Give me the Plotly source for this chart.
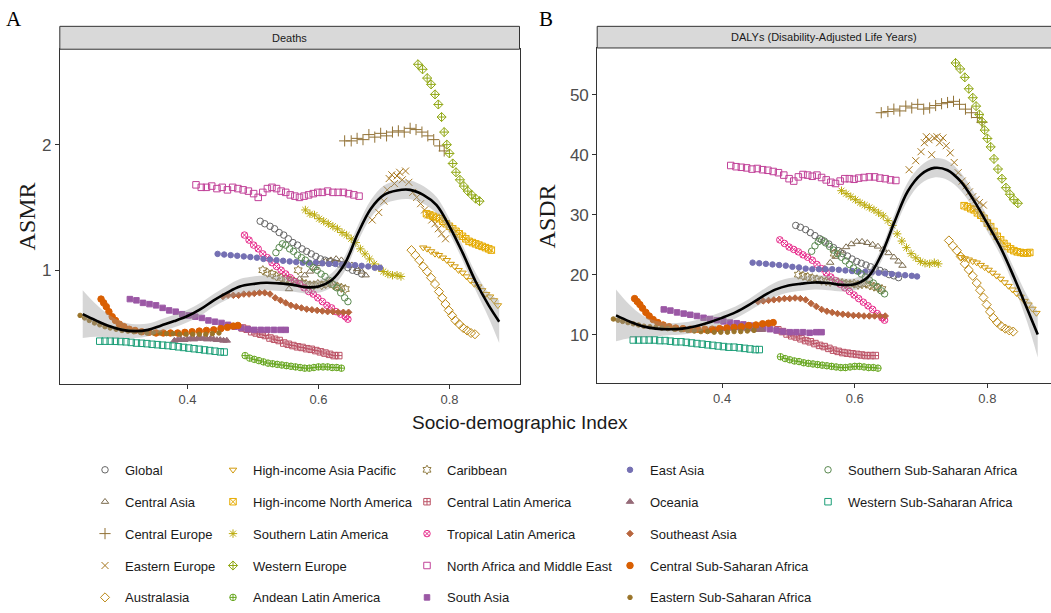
import plotly.graph_objects as go

W, H = 1051, 613

# ---------------- data (SDI, ASMR deaths, ASDR DALYs) ----------------
sdi_global = [0.511,0.518,0.526,0.533,0.540,0.547,0.554,0.561,0.568,0.575,0.582,0.589,0.596,0.603,0.610,0.617,0.624,0.631,0.638,0.645,0.652,0.659,0.666]
asmr_global = [1.39,1.37,1.35,1.33,1.30,1.28,1.25,1.22,1.20,1.17,1.15,1.13,1.11,1.09,1.08,1.07,1.06,1.05,1.04,1.02,1.00,0.99,0.97]
asdr_global = [28.2,27.9,27.5,27.0,26.5,26.0,25.6,25.1,24.5,24.0,23.5,23.1,22.6,22.2,21.9,21.6,21.3,21.0,20.7,20.4,20.0,19.8,19.5]

sdi_cas = [0.555,0.563,0.571,0.579,0.587,0.595,0.603,0.611,0.619,0.627,0.635,0.643,0.651,0.659,0.666,0.672]
asmr_cas = [0.85,0.89,0.93,0.96,0.99,1.02,1.05,1.07,1.08,1.09,1.08,1.06,1.04,1.01,0.99,0.96]
asdr_cas = [21.0,22.0,23.0,23.9,24.6,25.1,25.5,25.5,25.3,25.0,24.7,24.2,23.6,22.9,22.2,21.5]

sdi_ceu = [0.640,0.650,0.659,0.668,0.677,0.686,0.695,0.704,0.713,0.722,0.731,0.740,0.749,0.758,0.767,0.776,0.785,0.792]
asmr_ceu = [2.03,2.03,2.05,2.04,2.08,2.06,2.09,2.07,2.10,2.11,2.10,2.13,2.12,2.10,2.07,2.04,1.99,1.95]
asdr_ceu = [47.0,47.2,47.6,47.3,48.1,47.8,48.4,47.6,47.8,48.2,48.5,48.7,48.9,48.4,47.6,47.0,46.2,45.4]

sdi_eeu = [0.682,0.692,0.700,0.705,0.708,0.712,0.716,0.720,0.724,0.728,0.733,0.738,0.744,0.750,0.756,0.762,0.768,0.773,0.778,0.783,0.788,0.794]
asmr_eeu = [1.40,1.46,1.55,1.64,1.73,1.76,1.69,1.75,1.78,1.72,1.79,1.70,1.62,1.58,1.53,1.48,1.44,1.40,1.37,1.33,1.29,1.25]
asdr_eeu = [37.5,39.0,40.5,42.0,43.0,42.5,40.0,42.8,43.0,42.0,42.8,41.5,40.3,38.7,37.0,35.6,34.8,33.8,33.0,32.5,32.0,31.6]

sdi_aus = [0.742,0.748,0.754,0.760,0.766,0.772,0.778,0.784,0.789,0.794,0.799,0.804,0.809,0.815,0.821,0.827,0.833,0.839]
asmr_aus = [1.16,1.12,1.08,1.03,0.99,0.94,0.89,0.83,0.78,0.73,0.68,0.64,0.60,0.57,0.54,0.52,0.50,0.49]
asdr_aus = [25.7,24.8,24.0,23.0,21.8,20.8,19.8,18.6,17.4,16.2,15.0,13.8,12.8,12.0,11.4,11.0,10.7,10.5]

sdi_hiap = [0.760,0.766,0.772,0.778,0.784,0.790,0.796,0.802,0.808,0.814,0.820,0.826,0.832,0.838,0.844,0.850,0.856,0.862,0.868,0.874]
asmr_hiap = [1.18,1.17,1.15,1.13,1.12,1.10,1.08,1.05,1.03,1.00,0.98,0.95,0.92,0.89,0.87,0.84,0.81,0.79,0.76,0.72]
asdr_hiap = [22.9,22.7,22.5,22.2,22.0,21.6,21.2,20.8,20.3,19.8,19.3,18.7,18.1,17.5,16.9,16.3,15.6,15.0,14.3,13.6]

sdi_hina = [0.765,0.770,0.775,0.780,0.785,0.790,0.795,0.800,0.805,0.810,0.815,0.820,0.825,0.830,0.835,0.840,0.845,0.850,0.855,0.860,0.864]
asmr_hina = [1.45,1.44,1.43,1.42,1.41,1.39,1.37,1.35,1.33,1.31,1.29,1.27,1.25,1.23,1.22,1.21,1.20,1.19,1.18,1.17,1.16]
asdr_hina = [31.5,31.3,31.0,30.8,30.3,29.9,29.4,28.6,28.0,27.2,26.4,25.8,25.2,24.7,24.3,24.0,23.8,23.7,23.6,23.6,23.7]

sdi_sla = [0.580,0.587,0.594,0.601,0.608,0.615,0.622,0.629,0.636,0.643,0.650,0.657,0.664,0.671,0.678,0.685,0.692,0.699,0.706,0.713,0.720,0.726]
asmr_sla = [1.48,1.45,1.44,1.41,1.39,1.37,1.35,1.33,1.30,1.28,1.25,1.22,1.17,1.13,1.09,1.05,1.02,0.99,0.97,0.96,0.96,0.95]
asdr_sla = [34.0,33.5,33.0,32.5,32.0,31.6,31.2,30.8,30.3,29.8,29.0,28.2,26.8,25.6,24.5,23.5,22.8,22.2,21.9,21.8,22.0,21.8]

sdi_weu = [0.752,0.759,0.766,0.772,0.778,0.783,0.788,0.792,0.796,0.800,0.805,0.810,0.816,0.822,0.828,0.834,0.840,0.846]
asmr_weu = [2.64,2.60,2.53,2.48,2.40,2.32,2.22,2.10,2.00,1.93,1.85,1.78,1.72,1.67,1.63,1.60,1.57,1.55]
asdr_weu = [55.3,54.3,52.9,51.0,49.5,48.1,46.7,45.5,44.1,42.7,41.3,39.3,37.6,36.0,34.5,33.4,32.5,31.9]

sdi_and = [0.488,0.495,0.502,0.509,0.516,0.523,0.530,0.537,0.544,0.551,0.558,0.565,0.572,0.579,0.586,0.593,0.600,0.607,0.614,0.621,0.628,0.635]
asmr_and = [0.32,0.30,0.29,0.28,0.27,0.26,0.255,0.25,0.245,0.24,0.235,0.23,0.225,0.22,0.22,0.225,0.23,0.23,0.23,0.225,0.225,0.22]
asdr_and = [6.3,6.0,5.8,5.6,5.5,5.3,5.2,5.1,5.0,4.9,4.8,4.7,4.6,4.5,4.5,4.6,4.7,4.7,4.6,4.5,4.5,4.4]

sdi_car = [0.515,0.522,0.529,0.536,0.543,0.550,0.557,0.563,0.569,0.575,0.581,0.587,0.593,0.599,0.605,0.611,0.617,0.623,0.629,0.635,0.641]
asmr_car = [1.00,0.98,0.97,0.95,0.94,0.93,0.92,0.91,1.00,0.90,0.89,0.88,0.88,0.89,0.88,0.89,0.90,0.88,0.87,0.86,0.85]
asdr_car = [20.0,19.8,19.6,19.4,19.2,19.0,18.9,18.8,23.5,18.7,18.6,18.5,18.4,18.5,18.3,18.4,18.5,18.2,18.0,17.8,17.6]

sdi_cla = [0.484,0.491,0.498,0.505,0.512,0.519,0.526,0.533,0.540,0.547,0.554,0.561,0.568,0.575,0.582,0.589,0.596,0.603,0.610,0.617,0.624,0.631]
asmr_cla = [0.54,0.53,0.51,0.50,0.49,0.48,0.46,0.45,0.44,0.42,0.41,0.40,0.39,0.385,0.375,0.37,0.36,0.35,0.34,0.33,0.32,0.32]
asdr_cla = [10.8,10.5,10.1,9.8,9.6,9.3,9.0,8.8,8.5,8.2,8.0,7.7,7.4,7.2,7.0,6.9,6.8,6.7,6.6,6.5,6.5,6.5]

sdi_tla = [0.487,0.494,0.501,0.508,0.515,0.522,0.529,0.536,0.543,0.550,0.557,0.564,0.571,0.578,0.585,0.592,0.599,0.606,0.613,0.620,0.627,0.634,0.641,0.645]
asmr_tla = [1.28,1.24,1.20,1.17,1.13,1.10,1.06,1.03,1.00,0.97,0.94,0.91,0.89,0.86,0.83,0.81,0.78,0.75,0.72,0.70,0.67,0.65,0.63,0.61]
asdr_tla = [25.8,25.2,24.6,24.2,23.8,23.3,22.9,22.4,21.7,21.0,20.3,19.6,19.0,18.4,17.8,17.2,16.6,16.0,15.4,14.8,14.2,13.5,12.8,12.4]

sdi_name = [0.413,0.421,0.429,0.437,0.445,0.453,0.461,0.469,0.477,0.485,0.493,0.501,0.508,0.515,0.522,0.529,0.536,0.543,0.550,0.557,0.564,0.571,0.578,0.585,0.592,0.599,0.606,0.614,0.622,0.630,0.638,0.646,0.654,0.662]
asmr_name = [1.68,1.66,1.66,1.67,1.65,1.66,1.64,1.66,1.65,1.64,1.63,1.61,1.58,1.62,1.65,1.66,1.65,1.63,1.62,1.60,1.59,1.58,1.59,1.60,1.61,1.62,1.62,1.63,1.62,1.62,1.62,1.61,1.60,1.59]
asdr_name = [38.2,38.0,37.9,37.8,37.6,37.7,37.5,37.4,37.2,37.0,36.6,36.0,35.6,36.3,36.7,36.6,36.4,36.6,36.2,35.8,35.4,35.2,35.6,36.0,36.0,35.9,36.1,36.2,36.3,36.3,36.1,36.0,35.8,35.7]

sdi_sas = [0.312,0.322,0.332,0.342,0.352,0.362,0.372,0.382,0.392,0.402,0.412,0.422,0.432,0.442,0.452,0.462,0.472,0.482,0.492,0.502,0.512,0.522,0.532,0.542,0.550]
asmr_sas = [0.77,0.76,0.74,0.73,0.72,0.70,0.68,0.67,0.65,0.64,0.63,0.62,0.60,0.59,0.58,0.565,0.55,0.54,0.53,0.525,0.525,0.525,0.525,0.525,0.525]
asdr_sas = [14.2,14.0,13.7,13.5,13.3,13.1,12.8,12.6,12.4,12.2,12.0,11.9,11.7,11.5,11.3,11.1,10.9,10.7,10.5,10.4,10.4,10.4,10.3,10.4,10.4]

sdi_eas = [0.446,0.456,0.466,0.476,0.486,0.496,0.506,0.516,0.526,0.536,0.546,0.556,0.566,0.576,0.586,0.596,0.606,0.616,0.626,0.636,0.646,0.656,0.666,0.676,0.686,0.694]
asmr_eas = [1.13,1.125,1.12,1.115,1.11,1.105,1.10,1.09,1.085,1.08,1.075,1.07,1.065,1.06,1.06,1.06,1.055,1.05,1.05,1.045,1.04,1.04,1.035,1.03,1.02,1.02]
asdr_eas = [22.0,21.9,21.8,21.7,21.6,21.5,21.3,21.2,21.0,20.9,20.9,20.9,20.9,20.8,20.7,20.6,20.5,20.5,20.4,20.3,20.2,20.1,20.0,19.9,19.8,19.7]

sdi_oce = [0.380,0.385,0.390,0.395,0.400,0.405,0.410,0.415,0.420,0.425,0.430,0.435,0.440,0.445,0.450,0.455,0.460]
asmr_oce = [0.44,0.445,0.45,0.445,0.45,0.455,0.45,0.455,0.46,0.455,0.45,0.455,0.45,0.445,0.445,0.44,0.44]
asdr_oce = [10.6,10.7,10.8,10.8,10.9,11.0,11.0,11.1,11.1,11.1,11.0,11.1,11.0,10.9,10.9,10.8,10.8]

sdi_sea = [0.454,0.462,0.470,0.478,0.486,0.494,0.502,0.510,0.518,0.526,0.534,0.542,0.550,0.558,0.566,0.574,0.582,0.590,0.598,0.606,0.614,0.622,0.630,0.638,0.646]
asmr_sea = [0.79,0.80,0.80,0.80,0.81,0.81,0.815,0.82,0.82,0.81,0.78,0.76,0.74,0.72,0.71,0.70,0.69,0.685,0.68,0.675,0.67,0.67,0.665,0.665,0.665]
asdr_sea = [15.5,15.6,15.7,15.8,15.9,16.0,16.0,16.1,16.0,15.8,15.2,14.7,14.2,13.9,13.7,13.5,13.4,13.3,13.2,13.2,13.1,13.1,13.1,13.1,13.1]

sdi_cssa = [0.268,0.272,0.276,0.280,0.285,0.290,0.296,0.303,0.311,0.320,0.330,0.341,0.352,0.363,0.374,0.385,0.396,0.407,0.418,0.429,0.440,0.451,0.461,0.470,0.477]
asmr_cssa = [0.77,0.74,0.71,0.67,0.63,0.60,0.57,0.55,0.53,0.52,0.51,0.505,0.50,0.50,0.50,0.50,0.505,0.51,0.515,0.52,0.525,0.535,0.545,0.555,0.56]
asdr_cssa = [16.0,15.5,15.0,14.4,13.7,13.1,12.5,12.0,11.6,11.3,11.1,11.0,10.9,10.9,10.9,10.9,11.0,11.1,11.2,11.3,11.5,11.6,11.8,11.9,12.0]

sdi_essa = [0.236,0.243,0.250,0.258,0.266,0.274,0.282,0.291,0.300,0.309,0.318,0.328,0.338,0.348,0.358,0.368,0.378,0.388,0.398,0.408,0.418,0.428,0.438,0.448]
asmr_essa = [0.64,0.62,0.60,0.58,0.565,0.55,0.54,0.53,0.52,0.515,0.51,0.505,0.50,0.50,0.50,0.495,0.495,0.49,0.49,0.49,0.49,0.49,0.495,0.50]
asdr_essa = [12.6,12.4,12.2,12.0,11.8,11.6,11.4,11.3,11.2,11.1,11.0,10.9,10.8,10.7,10.6,10.5,10.5,10.4,10.4,10.4,10.5,10.5,10.6,10.7]

sdi_sssa = [0.535,0.540,0.545,0.550,0.556,0.562,0.568,0.574,0.580,0.586,0.592,0.598,0.604,0.610,0.616,0.622,0.628,0.634,0.640,0.645]
asmr_sssa = [1.14,1.18,1.21,1.20,1.17,1.15,1.12,1.10,1.08,1.05,1.02,1.00,0.97,0.95,0.92,0.89,0.86,0.82,0.78,0.75]
asdr_sssa = [23.9,24.8,25.5,25.8,25.3,24.7,24.1,23.5,22.9,22.3,21.7,21.1,20.6,20.1,19.6,19.1,18.6,18.0,17.3,16.8]

sdi_wssa = [0.266,0.274,0.282,0.290,0.298,0.306,0.314,0.322,0.330,0.338,0.346,0.354,0.362,0.370,0.378,0.386,0.394,0.402,0.410,0.418,0.426,0.434,0.442,0.450,0.456]
asmr_wssa = [0.435,0.435,0.435,0.434,0.432,0.43,0.425,0.42,0.418,0.415,0.41,0.407,0.403,0.40,0.395,0.39,0.385,0.38,0.375,0.37,0.365,0.36,0.355,0.35,0.348]
asdr_wssa = [9.1,9.1,9.1,9.1,9.1,9.0,9.0,8.9,8.8,8.8,8.7,8.6,8.5,8.4,8.3,8.2,8.1,8.0,7.9,7.9,7.8,7.7,7.6,7.5,7.5]

# smoothed fit (loess-like) with confidence band
smooth_sdi = [0.24,0.26,0.28,0.30,0.32,0.34,0.36,0.38,0.40,0.42,0.44,0.46,0.48,0.50,0.52,0.54,0.56,0.58,0.60,0.62,0.64,0.66,0.68,0.70,0.72,0.74,0.76,0.78,0.80,0.82,0.84,0.86,0.876]
smooth_asmr = [0.65,0.60,0.555,0.525,0.515,0.525,0.56,0.595,0.635,0.69,0.76,0.82,0.87,0.89,0.90,0.895,0.885,0.865,0.87,0.92,1.05,1.29,1.49,1.60,1.635,1.64,1.60,1.52,1.35,1.14,0.91,0.72,0.59]
smooth_asmr_lo = [0.46,0.47,0.465,0.46,0.46,0.475,0.51,0.545,0.585,0.64,0.71,0.765,0.81,0.83,0.84,0.835,0.83,0.815,0.82,0.865,0.99,1.225,1.42,1.525,1.56,1.565,1.53,1.455,1.29,1.08,0.84,0.62,0.42]
smooth_asmr_hi = [0.84,0.73,0.645,0.59,0.57,0.575,0.61,0.645,0.685,0.74,0.81,0.875,0.93,0.95,0.96,0.955,0.94,0.915,0.92,0.975,1.11,1.355,1.56,1.675,1.71,1.715,1.67,1.585,1.41,1.20,0.98,0.82,0.76]
smooth_asdr = [13.2,12.2,11.4,11.0,10.9,11.0,11.4,12.0,12.8,13.7,14.9,16.3,17.5,18.2,18.5,18.7,18.6,18.3,18.4,19.6,23.3,28.8,33.9,36.7,37.8,37.4,35.5,32.3,28.5,24.5,19.6,14.3,10.0]
smooth_asdr_lo = [8.9,9.4,9.6,9.7,9.9,10.0,10.4,11.0,11.8,12.7,13.9,15.2,16.3,17.0,17.3,17.5,17.4,17.2,17.4,18.6,22.2,27.5,32.4,35.2,36.2,35.8,34.0,30.9,27.2,23.2,18.1,12.1,6.2]
smooth_asdr_hi = [17.5,15.0,13.2,12.3,11.9,12.0,12.4,13.0,13.8,14.7,15.9,17.4,18.7,19.4,19.7,19.9,19.8,19.4,19.4,20.6,24.4,30.1,35.4,38.2,39.4,39.0,37.0,33.7,29.8,25.8,21.1,16.5,13.8]

x_ticks = [0.4, 0.6, 0.8]
x_tick_labels = ["0.4", "0.6", "0.8"]
asmr_ticks = [1, 2]
asdr_ticks = [10, 20, 30, 40, 50]

# (name, sdi, asmr, asdr, colour, symbol, size, legend column)
series = [
    ("Global", sdi_global, asmr_global, asdr_global, "#666666", "circle-open", 6.5, 1),
    ("Central Asia", sdi_cas, asmr_cas, asdr_cas, "#7B6B4E", "triangle-up-open", 6.5, 1),
    ("Central Europe", sdi_ceu, asmr_ceu, asdr_ceu, "#917135", "cross-thin-open", 8, 1),
    ("Eastern Europe", sdi_eeu, asmr_eeu, asdr_eeu, "#A6761D", "x-thin-open", 7, 1),
    ("Australasia", sdi_aus, asmr_aus, asdr_aus, "#BB8814", "diamond-open", 7, 1),
    ("High-income Asia Pacific", sdi_hiap, asmr_hiap, asdr_hiap, "#D1990B", "triangle-down-open", 6.5, 2),
    ("High-income North America", sdi_hina, asmr_hina, asdr_hina, "#E6AB02", "square-x-open", 6.5, 2),
    ("Southern Latin America", sdi_sla, asmr_sla, asdr_sla, "#BBAA0B", "asterisk-open", 7, 2),
    ("Western Europe", sdi_weu, asmr_weu, asdr_weu, "#91A815", "diamond-cross-open", 7, 2),
    ("Andean Latin America", sdi_and, asmr_and, asdr_and, "#66A61E", "circle-cross-open", 6.5, 2),
    ("Caribbean", sdi_car, asmr_car, asdr_car, "#917C42", "hexagram-open", 7, 3),
    ("Central Latin America", sdi_cla, asmr_cla, asdr_cla, "#BC5366", "square-cross-open", 6.5, 3),
    ("Tropical Latin America", sdi_tla, asmr_tla, asdr_tla, "#E7298A", "circle-x-open", 6.5, 3),
    ("North Africa and Middle East", sdi_name, asmr_name, asdr_name, "#C14198", "square-open", 6.5, 3),
    ("South Asia", sdi_sas, asmr_sas, asdr_sas, "#9B58A5", "square", 5.5, 3),
    ("East Asia", sdi_eas, asmr_eas, asdr_eas, "#7570B3", "circle", 5.5, 4),
    ("Oceania", sdi_oce, asmr_oce, asdr_oce, "#966A78", "triangle-up", 6.5, 4),
    ("Southeast Asia", sdi_sea, asmr_sea, asdr_sea, "#B8653D", "diamond", 5, 4),
    ("Central Sub-Saharan Africa", sdi_cssa, asmr_cssa, asdr_cssa, "#D95F02", "circle", 6.5, 4),
    ("Eastern Sub-Saharan Africa", sdi_essa, asmr_essa, asdr_essa, "#9A7429", "circle", 4.5, 4),
    ("Southern Sub-Saharan Africa", sdi_sssa, asmr_sssa, asdr_sssa, "#5A8950", "circle-open", 6.5, 5),
    ("Western Sub-Saharan Africa", sdi_wssa, asmr_wssa, asdr_wssa, "#1B9E77", "square-open", 6.5, 5),
]

# ---------------- layout geometry (pixels) ----------------
def px_x(p):
    return p / W

def px_y(p):
    return 1 - p / H

A_left, A_right, A_top, A_bot = 59.8, 519.5, 51.4, 400.5
B_left, B_right, B_top, B_bot = 597.2, 1051, 50.1, 399.5
strip_top = 27.5

fig = go.Figure()

for name, sx, ya, yb, col, sym, sz, lcol in series:
    leg = "legend" if lcol == 1 else f"legend{lcol}"
    mk = dict(symbol=sym, color=col, size=sz, line=dict(color=col, width=1))
    fig.add_trace(go.Scatter(x=sx, y=ya, mode="markers", name=name, marker=mk,
                             legendgroup=name, legend=leg, xaxis="x", yaxis="y"))
    fig.add_trace(go.Scatter(x=sx, y=yb, mode="markers", name=name, marker=mk,
                             legendgroup=name, showlegend=False, xaxis="x2", yaxis="y2"))

band = "rgba(153,153,153,0.4)"
for xa, ya, lo, hi, mid in [("x", "y", smooth_asmr_lo, smooth_asmr_hi, smooth_asmr),
                            ("x2", "y2", smooth_asdr_lo, smooth_asdr_hi, smooth_asdr)]:
    fig.add_trace(go.Scatter(x=smooth_sdi, y=lo, mode="lines", line=dict(width=0, shape="spline"),
                             showlegend=False, hoverinfo="skip", xaxis=xa, yaxis=ya))
    fig.add_trace(go.Scatter(x=smooth_sdi, y=hi, mode="lines", line=dict(width=0, shape="spline"),
                             fill="tonexty", fillcolor=band, showlegend=False, hoverinfo="skip",
                             xaxis=xa, yaxis=ya))
    fig.add_trace(go.Scatter(x=smooth_sdi, y=mid, mode="lines", line=dict(color="black", width=2.6, shape="spline"),
                             showlegend=False, xaxis=xa, yaxis=ya))

axis_common = dict(showgrid=False, zeroline=False, showline=True, linecolor="#333333", linewidth=1,
                   mirror=True, ticks="outside", ticklen=4, tickcolor="#333333",
                   tickfont=dict(family="Liberation Sans", color="#4d4d4d"))

fig.update_layout(
    width=W, height=H, margin=dict(l=0, r=0, t=0, b=0),
    paper_bgcolor="white", plot_bgcolor="white",
    font=dict(family="Liberation Sans", color="#1a1a1a"),
    xaxis=dict(domain=[px_x(A_left), px_x(A_right)], range=[0.205, 0.907], tickvals=x_ticks,
               ticktext=x_tick_labels, anchor="y", **axis_common),
    yaxis=dict(domain=[px_y(A_bot), px_y(A_top)], range=[0.0977, 2.760], tickvals=asmr_ticks,
               anchor="x", **axis_common),
    xaxis2=dict(domain=[px_x(B_left), px_x(B_right)], range=[0.2116, 0.896], tickvals=x_ticks,
                ticktext=x_tick_labels, anchor="y2", **axis_common),
    yaxis2=dict(domain=[px_y(B_bot), px_y(B_top)], range=[2.0, 57.8], tickvals=asdr_ticks,
                anchor="x2", **axis_common),
)
fig.update_xaxes(tickfont_size=13)
fig.update_yaxes(tickfont_size=17)

# facet strips
for l, r, t, txt in [(A_left, A_right, A_top, "Deaths"),
                     (B_left, B_right + 6, B_top, "DALYs (Disability-Adjusted Life Years)")]:
    fig.add_shape(type="rect", xref="paper", yref="paper", x0=px_x(l), x1=px_x(r),
                  y0=px_y(t), y1=px_y(strip_top), fillcolor="#d9d9d9",
                  line=dict(color="#333333", width=1), layer="above")
    cx = (l + min(r, W)) / 2 if r <= W else (l + r - 6) / 2
    fig.add_annotation(xref="paper", yref="paper", x=px_x(cx),
                       y=px_y((t + strip_top) / 2), text=txt, showarrow=False,
                       font=dict(family="Liberation Sans", size=11, color="#1a1a1a"),
                       xanchor="center", yanchor="middle")

# titles and panel letters
fig.add_annotation(xref="paper", yref="paper", x=px_x(27), y=px_y(226), text="ASMR", textangle=-90,
                   showarrow=False, font=dict(family="Liberation Serif", size=24, color="#1a1a1a"),
                   xanchor="center", yanchor="middle")
fig.add_annotation(xref="paper", yref="paper", x=px_x(547), y=px_y(226), text="ASDR", textangle=-90,
                   showarrow=False, font=dict(family="Liberation Serif", size=24, color="#1a1a1a"),
                   xanchor="center", yanchor="middle")
fig.add_annotation(xref="paper", yref="paper", x=px_x(520), y=px_y(428), text="Socio-demographic Index",
                   showarrow=False, font=dict(family="Liberation Sans", size=19, color="#1a1a1a"),
                   xanchor="center", yanchor="top")
fig.add_annotation(xref="paper", yref="paper", x=px_x(14), y=px_y(20), text="A", showarrow=False,
                   font=dict(family="Liberation Serif", size=21, color="black"), xanchor="center", yanchor="middle")
fig.add_annotation(xref="paper", yref="paper", x=px_x(546), y=px_y(20), text="B", showarrow=False,
                   font=dict(family="Liberation Serif", size=21, color="black"), xanchor="center", yanchor="middle")

# five legend columns
leg_x = [85, 213, 407, 610, 808]
leg_common = dict(yanchor="top", xanchor="left", orientation="v", bgcolor="rgba(0,0,0,0)",
                  font=dict(family="Liberation Sans", size=13, color="#1a1a1a"), tracegroupgap=12,
                  itemsizing="trace")
legends = {}
for i, lx in enumerate(leg_x):
    key = "legend" if i == 0 else f"legend{i + 1}"
    legends[key] = dict(x=px_x(lx), y=px_y(475), **leg_common)
fig.update_layout(**legends)

fig.write_html("out.html")
